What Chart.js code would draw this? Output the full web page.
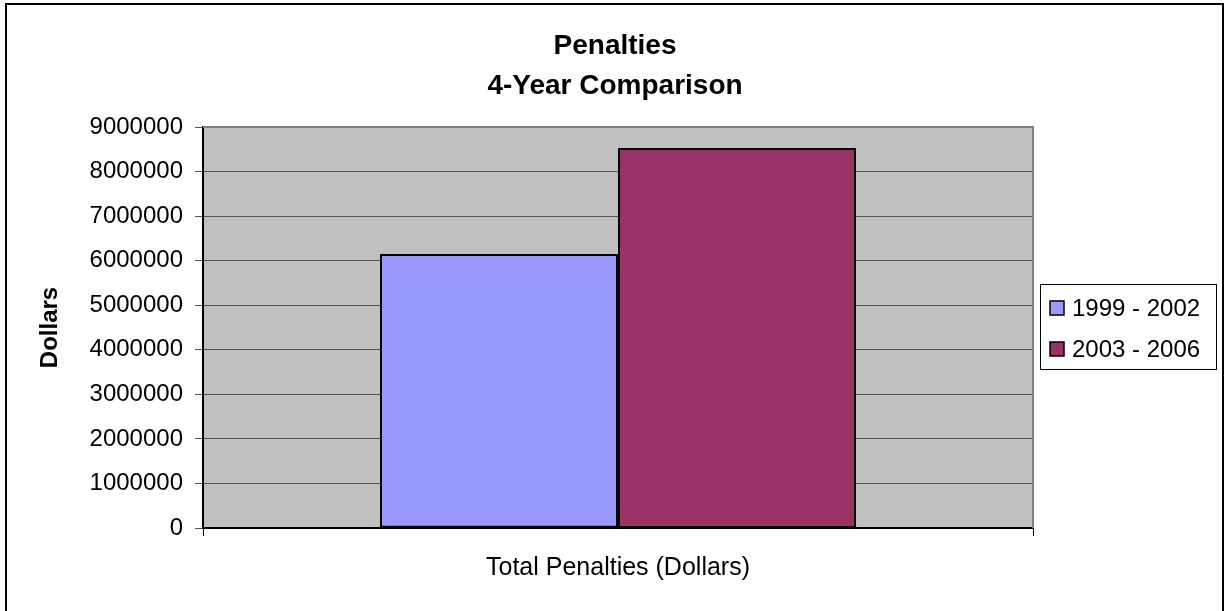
<!DOCTYPE html>
<html>
<head>
<meta charset="utf-8">
<script src="https://cdn.jsdelivr.net/npm/chart.js@4.4.0/dist/chart.umd.min.js"></script>
<style>
  html, body { margin: 0; padding: 0; background: #ffffff; }
  #wrap { width: 1225px; height: 611px; position: relative; }
</style>
</head>
<body>
<div id="wrap"><canvas id="c"></canvas></div>
<script>
// ---- Data ----
const categories = ["Total Penalties (Dollars)"];
const seriesLabels = ["1999 - 2002", "2003 - 2006"];
const series1999_2002 = [6150000];
const series2003_2006 = [8530000];
const seriesColors = ["#9999FF", "#993366"];
const titleLines = ["Penalties", "4-Year Comparison"];
const yAxisTitle = "Dollars";
const yMin = 0, yMax = 9000000, yStep = 1000000;

const FONT = "'Liberation Sans', Arial, Helvetica, sans-serif";

const plotBgPlugin = {
  id: 'plotBg',
  beforeDraw(chart) {
    const { ctx, chartArea: a } = chart;
    ctx.save();
    ctx.fillStyle = '#ffffff';
    ctx.fillRect(0, 0, chart.width, chart.height);
    ctx.fillStyle = '#C0C0C0';
    ctx.fillRect(a.left, a.top, a.right - a.left, a.bottom - a.top);
    ctx.restore();
  },
  beforeDatasetsDraw(chart) {
    const { ctx, chartArea: a } = chart;
    ctx.save();
    ctx.strokeStyle = '#808080';
    ctx.lineWidth = 2;
    ctx.beginPath();
    ctx.moveTo(a.left, a.top);
    ctx.lineTo(a.right, a.top);
    ctx.lineTo(a.right, a.bottom);
    ctx.stroke();
    ctx.restore();
  },
  afterDraw(chart) {
    const { ctx } = chart;
    ctx.save();
    // outer frame
    ctx.strokeStyle = '#000000';
    ctx.lineWidth = 2;
    ctx.strokeRect(6, 4, 1217, 700);
    // legend box
    ctx.lineWidth = 1;
    ctx.strokeRect(1040.5, 284.5, 176, 85);
    const ds = chart.data.datasets;
    ctx.font = "24px " + FONT;
    ctx.textBaseline = 'middle';
    ctx.textAlign = 'left';
    ds.forEach((d, i) => {
      const cy = 308 + i * 41;
      ctx.fillStyle = d.backgroundColor;
      ctx.fillRect(1050, cy - 7, 14, 14);
      ctx.strokeStyle = '#000000';
      ctx.lineWidth = 1.5;
      ctx.strokeRect(1050, cy - 7, 14, 14);
      ctx.fillStyle = '#000000';
      ctx.fillText(d.label, 1072, cy + 1);
    });
    ctx.restore();
  }
};

new Chart(document.getElementById('c'), {
  type: 'bar',
  data: {
    labels: categories,
    datasets: [
      { label: seriesLabels[0], data: series1999_2002, backgroundColor: seriesColors[0],
        borderColor: '#000000', borderWidth: 2, borderSkipped: false },
      { label: seriesLabels[1], data: series2003_2006, backgroundColor: seriesColors[1],
        borderColor: '#000000', borderWidth: 2, borderSkipped: false }
    ]
  },
  options: {
    responsive: true,
    maintainAspectRatio: false,
    animation: false,
    layout: { padding: { top: 0, left: 10, right: 5, bottom: 0 } },
    datasets: { bar: { categoryPercentage: 0.5735, barPercentage: 1.0 } },
    plugins: {
      legend: { display: false },
      tooltip: { enabled: false },
      title: {
        display: true,
        text: titleLines,
        color: '#000000',
        font: { family: FONT, size: 28, weight: 'bold', lineHeight: 40 / 28 },
        padding: { top: 26, bottom: 21 }
      }
    },
    scales: {
      x: {
        offset: true,
        grid: { display: true, offset: true, drawOnChartArea: false, drawTicks: true,
                tickLength: 8, color: '#000000', tickColor: '#000000' },
        border: { display: true, color: '#000000', width: 2 },
        ticks: { color: '#000000', font: { family: FONT, size: 25 }, padding: 17, maxRotation: 0 },
        afterFit(scale) { scale.height = 83; }
      },
      y: {
        min: yMin, max: yMax,
        grid: { color: '#555555', tickColor: '#555555', tickLength: 8, lineWidth: 1 },
        border: { display: true, color: '#000000', width: 2 },
        ticks: { stepSize: yStep, color: '#000000', font: { family: FONT, size: 24 }, padding: 12,
                 callback: (v) => String(v) },
        title: { display: true, text: yAxisTitle, color: '#000000',
                 font: { family: FONT, size: 24, weight: 'bold', lineHeight: 1.2 },
                 padding: { top: 25.6, bottom: 0 } },
        afterFit(scale) { scale.width = 193; }
      },
      // reserved space on the right for the legend box
      legendSpace: {
        type: 'linear',
        position: 'right',
        display: true,
        grid: { display: false, drawTicks: false },
        border: { display: false },
        ticks: { display: false },
        afterFit(scale) { scale.width = 187; }
      }
    }
  },
  plugins: [plotBgPlugin]
});
</script>
</body>
</html>
